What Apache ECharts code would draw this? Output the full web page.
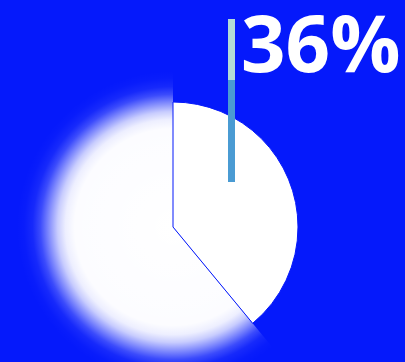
<!DOCTYPE html>
<html>
<head>
<meta charset="utf-8">
<script src="https://cdn.jsdelivr.net/npm/echarts@6/dist/echarts.min.js"></script>
<style>
  html, body { margin: 0; padding: 0; background: #0519fb; }
  #main { width: 405px; height: 362px; }
</style>
</head>
<body>
<div id="main"></div>
<script>
// 数据
var sliceNames = ['占比', '其余'];
var sliceValues = [39, 61];
var bigLabel = ['36%'];

var bgColor = '#0519fb';
var cx = 173, cy = 227;

var chart = echarts.init(document.getElementById('main'));

// 白色扇区 + 透明的其余部分
var mainData = [];
var glowData = [];
for (var i = 0; i < sliceValues.length; i++) {
    mainData.push({
        name: sliceNames[i],
        value: sliceValues[i],
        itemStyle: i == 0 ? {
            color: '#ffffff',
            borderColor: bgColor,
            borderWidth: 1
        } : { color: 'rgba(0,0,0,0)', borderWidth: 0 }
    });
    glowData.push({
        name: sliceNames[i],
        value: sliceValues[i],
        itemStyle: i == 1 ? {
            color: {
                type: 'radial', x: cx, y: cy, r: 156, global: true,
                colorStops: [
                    { offset: 0, color: '#ffffff' },
                    { offset: 0.63, color: 'rgba(255,255,255,0.99)' },
                    { offset: 0.69, color: 'rgba(255,255,255,0.93)' },
                    { offset: 0.74, color: 'rgba(255,255,255,0.78)' },
                    { offset: 0.795, color: 'rgba(255,255,255,0.5)' },
                    { offset: 0.85, color: 'rgba(255,255,255,0.22)' },
                    { offset: 0.9, color: 'rgba(255,255,255,0.07)' },
                    { offset: 0.955, color: 'rgba(255,255,255,0.015)' },
                    { offset: 1, color: 'rgba(255,255,255,0)' }
                ]
            },
            borderWidth: 0
        } : { color: 'rgba(0,0,0,0)', borderWidth: 0 }
    });
}

var option = {
    backgroundColor: bgColor,
    animation: false,
    graphic: [
        {
            type: 'rect',
            shape: { x: 228, y: 19, width: 7, height: 163 },
            style: {
                fill: {
                    type: 'linear', x: 0, y: 0, x2: 0, y2: 1,
                    colorStops: [
                        { offset: 0, color: '#b3dcd6' },
                        { offset: 0.375, color: '#b3dcd6' },
                        { offset: 0.375, color: '#4a9bd3' },
                        { offset: 1, color: '#4a9bd3' }
                    ]
                }
            },
            z: 10
        },
        {
            type: 'text',
            left: 241,
            top: 11,
            style: {
                text: bigLabel[0],
                fill: '#ffffff',
                font: 'bold 78px "Open Sans", sans-serif'
            },
            z: 10
        }
    ],
    series: [
        {
            type: 'pie',
            center: [cx, cy],
            radius: 156,
            startAngle: 90,
            clockwise: true,
            silent: true,
            label: { show: false },
            labelLine: { show: false },
            data: glowData
        },
        {
            type: 'pie',
            center: [cx, cy],
            radius: 125,
            startAngle: 90,
            clockwise: true,
            silent: true,
            label: { show: false },
            labelLine: { show: false },
            data: mainData
        }
    ]
};
chart.setOption(option);
</script>
</body>
</html>
